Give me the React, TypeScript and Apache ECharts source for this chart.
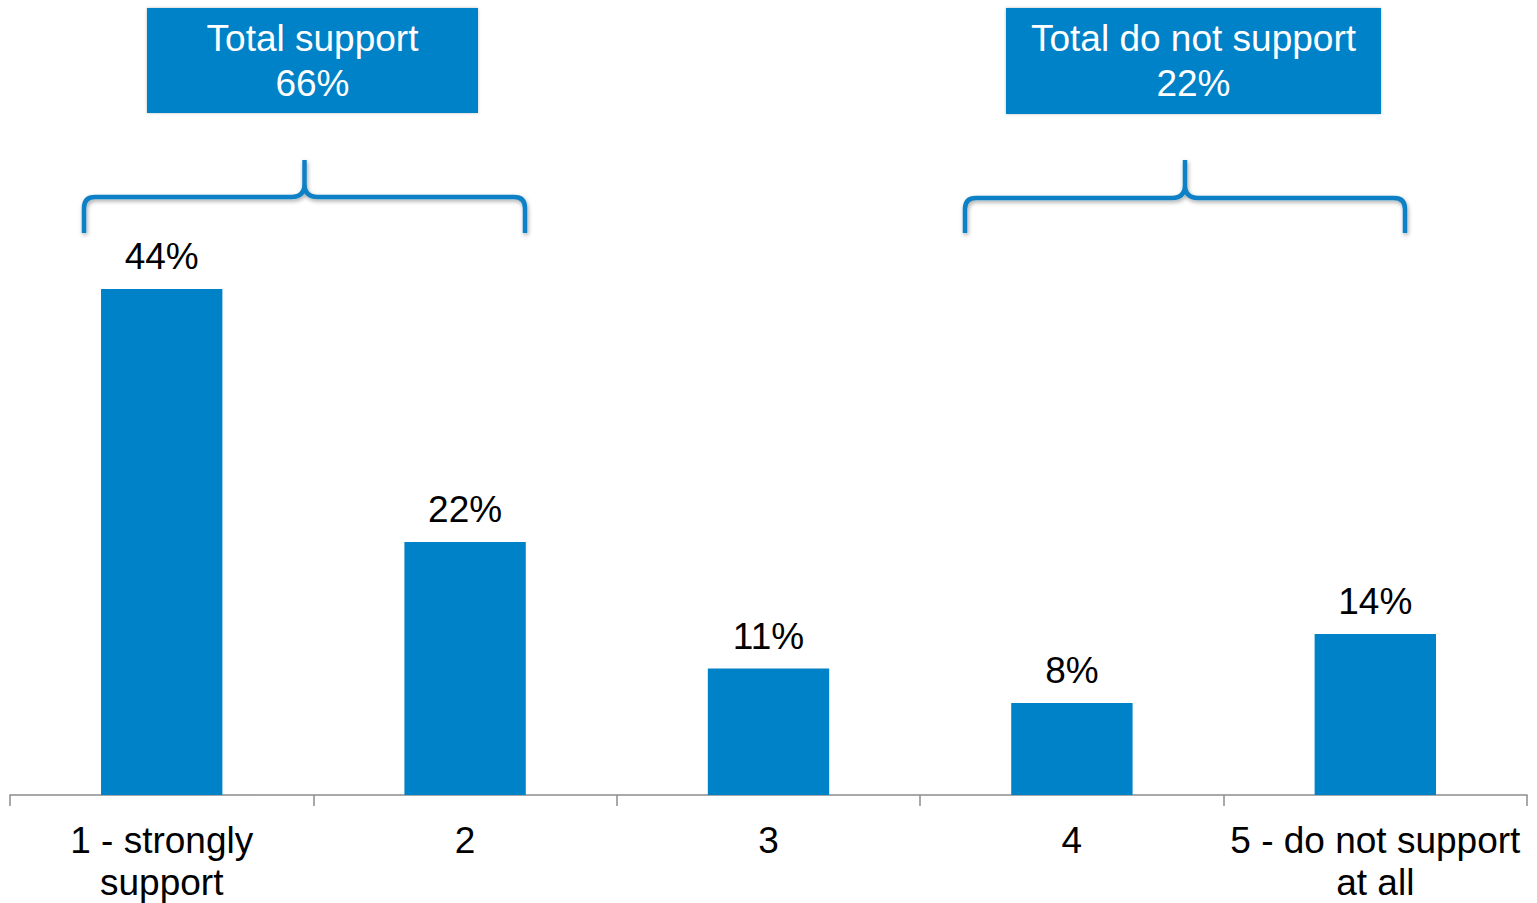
import React, { useEffect, useRef } from "react";
import * as echarts from "echarts";

const categories = ["1 - strongly\nsupport", "2", "3", "4", "5 - do not support\nat all"];
const values = [44, 22, 11, 8, 14];
const groupTitles = ["Total support", "Total do not support"];
const groupTotals = [66, 22];

const BLUE = "#0082C8";
const FONT = '"Liberation Sans", Arial, sans-serif';

function bracePath(x1: number, x2: number, yh: number, ytip: number, ybot: number) {
  const cx = (x1 + x2) / 2;
  const r = 11;
  const c = 13;
  return (
    `M ${x1} ${ybot} L ${x1} ${yh + r} Q ${x1} ${yh} ${x1 + r} ${yh} ` +
    `L ${cx - c} ${yh} Q ${cx} ${yh} ${cx} ${yh - c} L ${cx} ${ytip} ` +
    `M ${cx} ${yh - c} Q ${cx} ${yh} ${cx + c} ${yh} ` +
    `L ${x2 - r} ${yh} Q ${x2} ${yh} ${x2} ${yh + r} L ${x2} ${ybot}`
  );
}

let registered = false;
function registerShapes() {
  if (registered) return;
  registered = true;
  echarts.graphic.registerShape(
    "brace1",
    echarts.graphic.extendPath(bracePath(84, 525, 197, 160, 233), {})
  );
  echarts.graphic.registerShape(
    "brace2",
    echarts.graphic.extendPath(bracePath(965, 1405, 198, 160, 233), {})
  );
}

export default function App() {
  const ref = useRef<HTMLDivElement>(null);
  useEffect(() => {
    if (!ref.current) return;
    registerShapes();
    const chart = echarts.init(ref.current, null, { renderer: "svg" });
    const braceStyle = {
      fill: "none",
      stroke: "#0A80C6",
      lineWidth: 4.5,
      shadowBlur: 4,
      shadowColor: "rgba(0,0,0,0.35)",
      shadowOffsetY: 2,
      shadowOffsetX: 1,
    };
    const boxes = [
      { x: 147, y: 8, w: 331, h: 105 },
      { x: 1006, y: 8, w: 375, h: 106 },
    ];
    const graphics: any[] = [];
    boxes.forEach((b, i) => {
      graphics.push({
        type: "rect",
        shape: { x: b.x, y: b.y, width: b.w, height: b.h },
        style: { fill: BLUE, shadowBlur: 3, shadowColor: "rgba(0,0,0,0.25)" },
        z: 10,
      });
      graphics.push({
        type: "text",
        x: b.x + b.w / 2,
        y: b.y + b.h / 2,
        z: 11,
        style: {
          text: `${groupTitles[i]}\n${groupTotals[i]}%`,
          fill: "#FFFFFF",
          font: `37px ${FONT}`,
          lineHeight: 45,
          textAlign: "center",
          textVerticalAlign: "middle",
        },
      });
    });
    graphics.push({ type: "brace1", x: 0, y: 0, style: braceStyle, z: 10 });
    graphics.push({ type: "brace2", x: 0, y: 0, style: braceStyle, z: 10 });

    chart.setOption({
      animation: false,
      grid: { left: 10, right: 10, top: 105, bottom: 107, containLabel: false },
      xAxis: {
        type: "category",
        data: categories,
        axisLine: { show: true, lineStyle: { color: "#8C8C8C", width: 1.5 } },
        axisTick: { show: true, length: 11, lineStyle: { color: "#8C8C8C", width: 1.5 } },
        axisLabel: {
          color: "#000",
          fontSize: 37,
          fontFamily: FONT,
          lineHeight: 42,
          margin: 24,
          interval: 0,
        },
      },
      yAxis: {
        type: "value",
        min: 0,
        max: 60,
        show: false,
        splitLine: { show: false },
      },
      series: [
        {
          type: "bar",
          data: values,
          barWidth: "40%",
          itemStyle: { color: BLUE },
          label: {
            show: true,
            position: "top",
            distance: 14,
            formatter: "{c}%",
            color: "#000",
            fontSize: 37,
            fontFamily: FONT,
          },
        },
      ],
      graphic: graphics,
    });
    return () => chart.dispose();
  }, []);
  return (
    <div
      ref={ref}
      style={{ position: "fixed", left: 0, top: 0, width: "1537px", height: "903px", background: "#fff" }}
    />
  );
}
